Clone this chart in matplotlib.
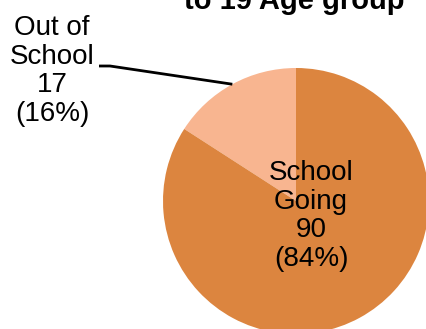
import matplotlib
matplotlib.use("Agg")
import matplotlib.pyplot as plt
import numpy as np

categories = ["Out of School", "School Going"]
label_lines = [["Out of", "School"], ["School", "Going"]]
values = [17, 90]
colors = ["#F8B590", "#DC853F"]
title = "to 19 Age group"

plt.rcParams['font.family'] = ['Liberation Sans', 'DejaVu Sans']

W, H = 426, 329
fig = plt.figure(figsize=(W/100, H/100), dpi=100)
ax = fig.add_axes([0, 0, 1, 1])

cx, cy, r = 296, 128, 133
wedges, _ = ax.pie(values, colors=colors, startangle=90, counterclock=True,
                   center=(cx, cy), radius=r, frame=True,
                   wedgeprops=dict(linewidth=0))
ax.set_xlim(0, W)
ax.set_ylim(0, H)
ax.set_aspect('equal')
ax.axis('off')

total = sum(values)
pcts = [round(v / total * 100) for v in values]
texts = ["\n".join(label_lines[i] + [str(values[i]), f"({pcts[i]}%)"]) for i in range(2)]

# School Going label inside
ax.text(311, H - 216, texts[1], ha='center', va='center', fontsize=20,
        linespacing=1.12)

# Out of School label outside with leader
w0 = wedges[0]
mid = np.deg2rad((w0.theta1 + w0.theta2) / 2)
px, py = cx + r*np.cos(mid), cy + r*np.sin(mid)
ax.text(52, H - 71, texts[0], ha='center', va='center', fontsize=20, linespacing=1.12)
ax.plot([99, 110, px], [H-66, H-66, py], color='black', lw=2, solid_capstyle='butt')

fig.text(294/W, 1 - 9/H, title, ha='center', va='baseline', fontsize=21,
         fontweight='bold')

fig.savefig("out.png", dpi=100)
